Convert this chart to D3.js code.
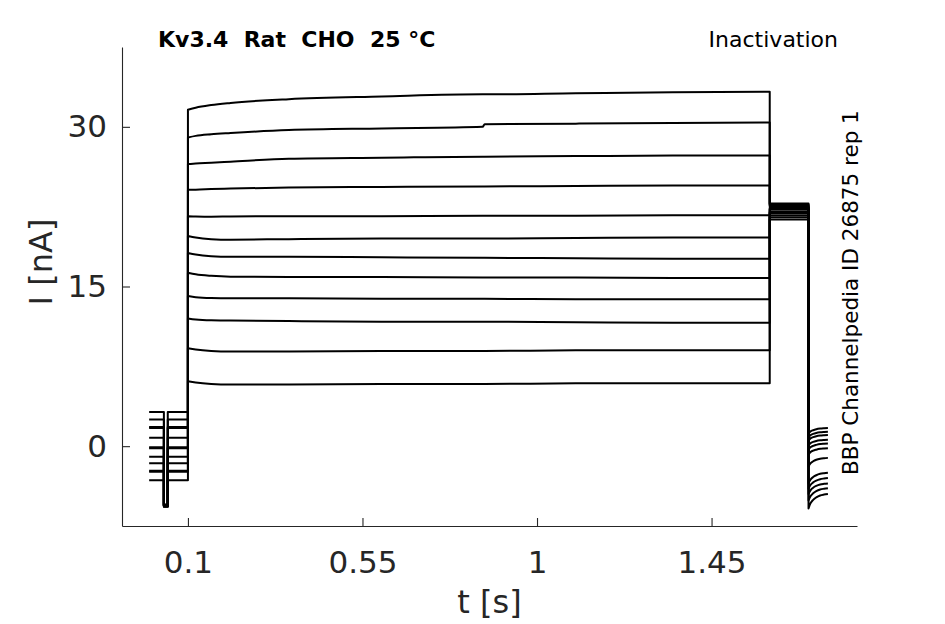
<!DOCTYPE html>
<html>
<head>
<meta charset="utf-8">
<script src="https://cdn.jsdelivr.net/npm/d3@7"></script>
<style>
  body { margin: 0; background: #fff; }
  svg { display: block; }
</style>
</head>
<body>
<script>
// Kv3.4 inactivation traces (nA vs s)

var xTicks = [0.1, 0.55, 1, 1.45]
var xTickLabels = ["0.1", "0.55", "1", "1.45"]
var yTicks = [0, 15, 30]
var yTickLabels = ["0", "15", "30"]

// holding current 0 - 0.1 s, one per sweep (top trace first)
var holdI = [3.2, 2.5, 1.8, 1.7, 0.8, -0.1, -0.2, -1.0, -1.6, -2.3, -2.4, -3.2]
// short negative dip around 0.04 s
var dipT = [0.038, 0.048]
var dipI = [-5.6, -5.6, -5.5, -5.6, -5.7, -5.6, -5.5, -5.6, -5.7, -5.6, -5.5, -5.6]

// prepulse 0.1 - 1.6 s
var stepT = [0.1, 0.12, 0.16, 0.21, 0.36, 0.6, 0.86, 0.865, 1.1, 1.35, 1.6]
var stepI = [
    [31.6, 31.8, 32.05, 32.25, 32.6, 32.85, 33.05, 33.05, 33.15, 33.25, 33.3],
    [29.0, 29.15, 29.3, 29.42, 29.7, 29.85, 30.0, 30.25, 30.3, 30.35, 30.4],
    [26.5, 26.55, 26.62, 26.72, 27.0, 27.1, 27.2, 27.2, 27.25, 27.3, 27.3],
    [24.1, 24.1, 24.15, 24.2, 24.3, 24.35, 24.4, 24.4, 24.45, 24.5, 24.5],
    [21.6, 21.58, 21.56, 21.58, 21.6, 21.6, 21.65, 21.65, 21.65, 21.7, 21.7],
    [19.75, 19.6, 19.45, 19.4, 19.45, 19.5, 19.5, 19.5, 19.55, 19.6, 19.6],
    [18.15, 18.0, 17.85, 17.8, 17.8, 17.75, 17.7, 17.7, 17.65, 17.6, 17.6],
    [16.3, 16.15, 16.0, 15.92, 15.9, 15.9, 15.85, 15.85, 15.85, 15.8, 15.8],
    [14.1, 14.0, 13.92, 13.9, 13.9, 13.85, 13.85, 13.85, 13.8, 13.8, 13.8],
    [12.0, 11.9, 11.82, 11.8, 11.75, 11.7, 11.7, 11.7, 11.65, 11.6, 11.6],
    [9.2, 9.08, 8.95, 8.9, 8.9, 8.95, 8.95, 8.95, 9.0, 9.0, 9.0],
    [6.1, 5.98, 5.85, 5.8, 5.8, 5.85, 5.85, 5.85, 5.9, 5.9, 5.9]
]

// test pulse 1.6 - 1.7 s
var testT = [1.6, 1.7]
var testI = [22.8, 22.7, 22.6, 22.5, 22.4, 22.3, 22.2, 22.0, 21.9, 21.7, 21.5, 21.3]

// tail after 1.7 s
var tailT = [1.7, 1.705, 1.712, 1.72, 1.73, 1.74, 1.75]
var tailI = [
    [1.2, 1.38, 1.5, 1.59, 1.65, 1.68, 1.7],
    [0.85, 1.03, 1.15, 1.24, 1.3, 1.33, 1.35],
    [0.55, 0.73, 0.85, 0.94, 1.0, 1.03, 1.05],
    [0.1, 0.28, 0.4, 0.49, 0.55, 0.58, 0.6],
    [-0.3, -0.11, 0.03, 0.12, 0.2, 0.23, 0.25],
    [-0.75, -0.56, -0.42, -0.33, -0.25, -0.22, -0.2],
    [-1.9, -1.62, -1.42, -1.28, -1.18, -1.13, -1.1],
    [-3.5, -3.15, -2.9, -2.73, -2.6, -2.54, -2.5],
    [-4.0, -3.65, -3.4, -3.23, -3.1, -3.04, -3.0],
    [-4.5, -4.15, -3.9, -3.73, -3.6, -3.54, -3.5],
    [-5.1, -4.7, -4.42, -4.22, -4.07, -4.0, -3.95],
    [-5.85, -5.38, -5.04, -4.81, -4.63, -4.55, -4.5]
]

var width = 945
var height = 624
var margin = { top: 47, bottom: 98, left: 122, right: 88 }
var font = "DejaVu Sans, sans-serif"
var axisColor = "#262626"

var svg = d3.select("body").append("svg")
    .attr("width", width)
    .attr("height", height)

var escalaX = d3.scaleLinear()
    .domain([-0.07, 1.825])
    .range([margin.left, width - margin.right])

var escalaY = d3.scaleLinear()
    .domain([-7.5, 37.5])
    .range([height - margin.bottom, margin.top])

var lineaRecta = d3.line().x(d => escalaX(d[0])).y(d => escalaY(d[1]))
var lineaCurva = d3.line().x(d => escalaX(d[0])).y(d => escalaY(d[1])).curve(d3.curveMonotoneX)

// glue the segments of one sweep into a single path
function trazo(i) {
    var antes = [
        [0, holdI[i]], [dipT[0], holdI[i]], [dipT[0], dipI[i]], [dipT[1], dipI[i]],
        [dipT[1], holdI[i]], [0.1, holdI[i]]
    ]
    var paso = stepT.map((t, k) => [t, stepI[i][k]])
    var prueba = [[testT[0], stepI[i][stepI[i].length - 1]], [testT[0], testI[i]], [testT[1], testI[i]]]
    var cola = tailT.map((t, k) => [t, tailI[i][k]])
    return lineaRecta(antes) +
        lineaCurva(paso).replace(/^M/, "L") +
        lineaRecta(prueba).replace(/^M/, "L") +
        lineaCurva(cola).replace(/^M/, "L")
}

svg.append("g")
    .selectAll("path")
    .data(holdI)
    .enter()
    .append("path")
    .attr("d", (d, i) => trazo(i))
    .attr("fill", "none")
    .attr("stroke", "#000")
    .attr("stroke-width", 2)
    .attr("stroke-linejoin", "round")

// ejes
var ejeX = d3.axisBottom(escalaX)
    .tickValues(xTicks)
    .tickFormat((d, i) => xTickLabels[i])
    .tickSizeInner(-8)
    .tickSizeOuter(0)
    .tickPadding(25)

var gx = svg.append("g")
    .attr("transform", "translate(0," + (height - margin.bottom) + ")")
    .call(ejeX)

var ejeY = d3.axisLeft(escalaY)
    .tickValues(yTicks)
    .tickFormat((d, i) => yTickLabels[i])
    .tickSizeInner(-8)
    .tickSizeOuter(0)
    .tickPadding(15)

var gy = svg.append("g")
    .attr("transform", "translate(" + margin.left + ",0)")
    .call(ejeY)

;[gx, gy].forEach(g => {
    g.selectAll("path, line").attr("stroke", axisColor).attr("stroke-width", 1.1)
    g.selectAll("text").attr("fill", axisColor).attr("font-size", 31).attr("font-family", font)
})

// etiquetas
svg.append("text")
    .attr("x", (margin.left + width - margin.right) / 2)
    .attr("y", 613)
    .attr("text-anchor", "middle")
    .attr("font-family", font)
    .attr("font-size", 32)
    .attr("fill", axisColor)
    .text("t [s]")

svg.append("text")
    .attr("transform", "translate(52,262) rotate(-90)")
    .attr("text-anchor", "middle")
    .attr("font-family", font)
    .attr("font-size", 32)
    .attr("fill", axisColor)
    .text("I [nA]")

svg.append("text")
    .attr("x", 158)
    .attr("y", 47)
    .attr("font-family", font)
    .attr("font-size", 22)
    .attr("font-weight", "bold")
    .style("white-space", "pre")
    .text("Kv3.4  Rat  CHO  25 °C")

svg.append("text")
    .attr("x", 838)
    .attr("y", 47)
    .attr("text-anchor", "end")
    .attr("font-family", font)
    .attr("font-size", 22)
    .text("Inactivation")

svg.append("text")
    .attr("transform", "translate(858,475) rotate(-90)")
    .attr("font-family", font)
    .attr("font-size", 21.5)
    .text("BBP Channelpedia ID 26875 rep 1")
</script>
</body>
</html>
